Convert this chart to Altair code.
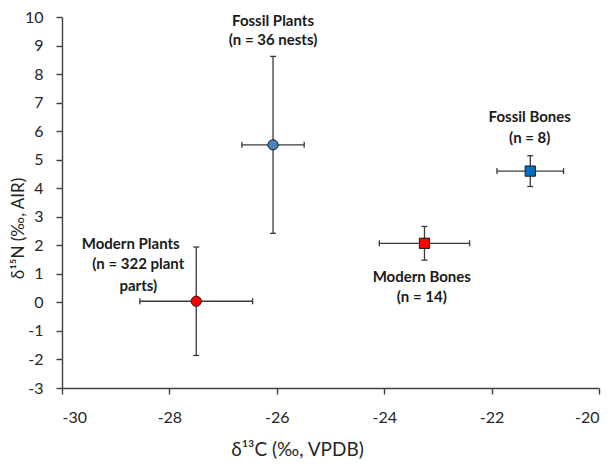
import altair as alt
import pandas as pd

groups = ["Modern Plants", "Fossil Plants", "Modern Bones", "Fossil Bones"]
d13C = [-27.50, -26.07, -23.25, -21.28]
d13C_sd = [1.05, 0.58, 0.84, 0.62]
d15N = [0.04, 5.52, 2.07, 4.60]
d15N_sd = [1.90, 3.10, 0.59, 0.54]
shapes = ["circle", "circle", "square", "square"]
fills = ["#FF0000", "#4F81BD", "#FF0000", "#0070C0"]

label_text = ["Fossil Plants", "(n = 36 nests)",
              "Fossil Bones", "(n = 8)",
              "Modern Bones", "(n = 14)",
              "Modern Plants", "(n = 322 plant", "parts)"]
label_x = [-26.07, -26.07, -21.29, -21.29, -23.30, -23.30, -28.72, -28.58, -28.58]
label_y = [9.87, 9.20, 6.50, 5.76, 0.89, 0.19, 2.05, 1.35, 0.57]

x_ticks = [-30, -28, -26, -24, -22, -20]
y_ticks = [-3, -2, -1, 0, 1, 2, 3, 4, 5, 6, 7, 8, 9, 10]

pts = pd.DataFrame({"group": groups, "d13C": d13C, "d15N": d15N,
                    "sx": d13C_sd, "sy": d15N_sd})
pts["x_lo"] = pts["d13C"] - pts["sx"]
pts["x_hi"] = pts["d13C"] + pts["sx"]
pts["y_lo"] = pts["d15N"] - pts["sy"]
pts["y_hi"] = pts["d15N"] + pts["sy"]

labels = pd.DataFrame({"x": label_x, "y": label_y, "text": label_text})

AX = "#404040"
EB = "#3a3a3a"
FONT = "Lato"

xscale = alt.Scale(domain=[-30, -20], nice=False, zero=False)
yscale = alt.Scale(domain=[-3, 10], nice=False, zero=False)

xaxis = alt.Axis(values=x_ticks, grid=False, title="δ¹³C (‰, VPDB)",
                 labelExpr="'' + datum.value", labelOverlap=False,
                 domainColor=AX, domainWidth=1.4, tickColor=AX, tickWidth=1.4,
                 tickSize=6, labelPadding=15, labelFontSize=16, labelFont=FONT,
                 labelColor="#262626", titleFont=FONT, titleFontSize=19,
                 titleFontWeight="normal", titleColor="#262626",
                 titleX=235, titleY=61, titleAlign="center", titleBaseline="middle")
yaxis = alt.Axis(values=y_ticks, tickCount=14, grid=False, title="δ¹⁵N (‰, AIR)",
                 labelExpr="'' + datum.value", labelOverlap=False,
                 domainColor=AX, domainWidth=1.4, tickColor=AX, tickWidth=1.4,
                 tickSize=6, labelPadding=13, labelFontSize=16, labelFont=FONT,
                 labelColor="#262626", titleFont=FONT, titleFontSize=17,
                 titleFontWeight="normal", titleColor="#262626",
                 titleX=-44, titleY=211, titleAngle=270, titleAlign="center",
                 titleBaseline="middle")


def X(f):
    return alt.X(f, scale=xscale, axis=xaxis)


def Y(f):
    return alt.Y(f, scale=yscale, axis=yaxis)


base = alt.Chart(pts)

hbar = base.mark_rule(color=EB, strokeWidth=1.3).encode(
    x=X("x_lo:Q"), x2="x_hi:Q", y=Y("d15N:Q"),
)
vbar = base.mark_rule(color=EB, strokeWidth=1.3).encode(
    x=X("d13C:Q"), y=Y("y_lo:Q"), y2="y_hi:Q"
)
hcaps = base.transform_fold(["x_lo", "x_hi"], as_=["k", "xv"]).mark_tick(
    orient="vertical", size=6, thickness=1.3, color=EB, opacity=1
).encode(x=X("xv:Q"), y=Y("d15N:Q"))
vcaps = base.transform_fold(["y_lo", "y_hi"], as_=["k", "yv"]).mark_tick(
    orient="horizontal", size=6, thickness=1.3, color=EB, opacity=1
).encode(x=X("d13C:Q"), y=Y("yv:Q"))

points = base.mark_point(filled=True, size=105, stroke="#1a1a1a",
                         strokeWidth=1, opacity=1).encode(
    x=X("d13C:Q"), y=Y("d15N:Q"),
    fill=alt.Fill("group:N", scale=alt.Scale(domain=groups, range=fills), legend=None),
    shape=alt.Shape("group:N", scale=alt.Scale(domain=groups, range=shapes), legend=None),
)

text = alt.Chart(labels).mark_text(font=FONT, fontSize=15, fontWeight="bold",
                                   color="#1a1a1a", align="center",
                                   baseline="middle").encode(
    x=X("x:Q"), y=Y("y:Q"), text="text:N"
)

chart = alt.layer(hbar, vbar, hcaps, vcaps, points, text).properties(
    width=537, height=371,
    padding={"left": 54, "top": 9, "right": 5, "bottom": 71},
    autosize=alt.AutoSizeParams(type="none"),
).configure_view(stroke=None)

chart.save("out.html", embed_options={"renderer": "svg", "actions": False})
